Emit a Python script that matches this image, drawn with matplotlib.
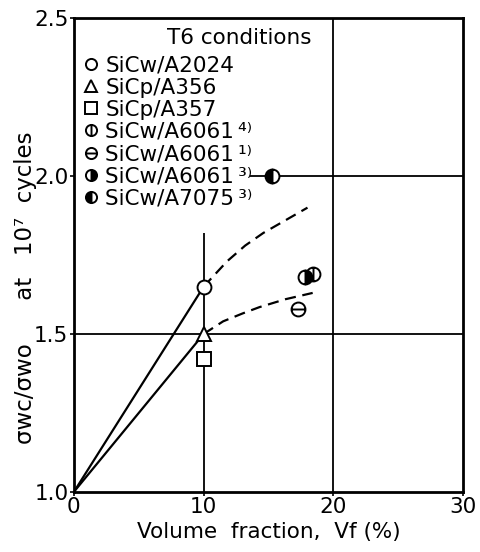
import matplotlib
matplotlib.use("Agg")
import matplotlib.pyplot as plt
from matplotlib.path import Path

# points (Vf %, fatigue strength ratio)
labels = ["SiCw/A2024", "SiCp/A356", "SiCp/A357", "SiCw/A6061\u2009\u2074\u207e",
          "SiCw/A6061\u2009\u00b9\u207e", "SiCw/A6061\u2009\u00b3\u207e", "SiCw/A7075\u2009\u00b3\u207e"]
vf = [10, 10, 10, 18.4, 17.3, 17.8, 15.3]
ratio = [1.65, 1.50, 1.42, 1.69, 1.58, 1.68, 2.00]

# solid lines from origin
line1_x = [0, 10]
line1_y = [1.0, 1.65]
line2_x = [0, 10]
line2_y = [1.0, 1.50]

# dashed trend curves
dash1_x = [10, 11.8, 13.2, 14.6, 16.3, 18.0]
dash1_y = [1.65, 1.73, 1.78, 1.82, 1.86, 1.90]
dash2_x = [10, 11.5, 13.0, 14.3, 16.3, 18.4]
dash2_y = [1.50, 1.54, 1.565, 1.585, 1.61, 1.63]

xticks = [0, 10, 20, 30]
yticks = [1.0, 1.5, 2.0, 2.5]

circ = Path.unit_circle()
vbar = Path([[0, -1], [0, 1]], [Path.MOVETO, Path.LINETO])
hbar = Path([[-1, 0], [1, 0]], [Path.MOVETO, Path.LINETO])
phi = Path.make_compound_path(circ, vbar)
theta = Path.make_compound_path(circ, hbar)

styles = [
    dict(marker="o", mfc="white"),
    dict(marker="^", mfc="white"),
    dict(marker="s", mfc="white"),
    dict(marker=phi, mfc="white"),
    dict(marker=theta, mfc="white"),
    dict(marker="o", mfc="black", fillstyle="right", markerfacecoloralt="white"),
    dict(marker="o", mfc="black", fillstyle="left", markerfacecoloralt="white"),
]

plt.rcParams.update({'font.size': 15.5, 'font.family': 'DejaVu Sans'})
fig = plt.figure(figsize=(4.8, 5.52), dpi=100)
ax = fig.add_axes([0.154, 0.109, 0.811, 0.858])

# grid lines, partly hidden behind the legend block
ax.vlines(10, 1.0, 1.82, color="black", lw=1.3, zorder=1)
ax.vlines(20, 1.0, 2.5, color="black", lw=1.3, zorder=1)
ax.hlines(1.5, 0, 30, color="black", lw=1.3, zorder=1)
ax.hlines(2.0, 13.6, 30, color="black", lw=1.3, zorder=1)

ax.plot(line1_x, line1_y, color="black", lw=1.6, zorder=2)
ax.plot(line2_x, line2_y, color="black", lw=1.6, zorder=2)
ax.plot(dash1_x, dash1_y, color="black", lw=1.6, ls=(0, (5, 3)), zorder=2)
ax.plot(dash2_x, dash2_y, color="black", lw=1.6, ls=(0, (5, 3)), zorder=2)

for i in range(len(labels)):
    ax.plot(vf[i], ratio[i], ls="none", ms=10, mec="black", mew=1.4,
            label=labels[i], zorder=4, **styles[i])

ax.text(7.2, 2.437, "T6 conditions", fontsize=15.5, va="center", ha="left")
leg = ax.legend(loc="upper left", bbox_to_anchor=(0.0, 0.935), frameon=False,
                borderaxespad=0.0, handletextpad=0.15, handlelength=1.0,
                labelspacing=0.1, fontsize=15.5, borderpad=0.3,
                markerscale=0.8)

ax.set_xlim(0, 30)
ax.set_ylim(1.0, 2.5)
ax.set_xticks(xticks)
ax.set_xticklabels([str(t) for t in xticks])
ax.set_yticks(yticks)
ax.set_yticklabels(["%.1f" % t for t in yticks])
ax.tick_params(direction="out", length=3, width=1.2, pad=1)
for s in ax.spines.values():
    s.set_linewidth(2)

ax.set_xlabel("Volume  fraction,  Vf (%)", labelpad=3)
ax.set_ylabel("\u03c3wc/\u03c3wo      at   10\u2077  cycles", fontsize=16.5)
ax.yaxis.set_label_coords(-0.095, 0.43)

fig.savefig("out.png", dpi=100)
